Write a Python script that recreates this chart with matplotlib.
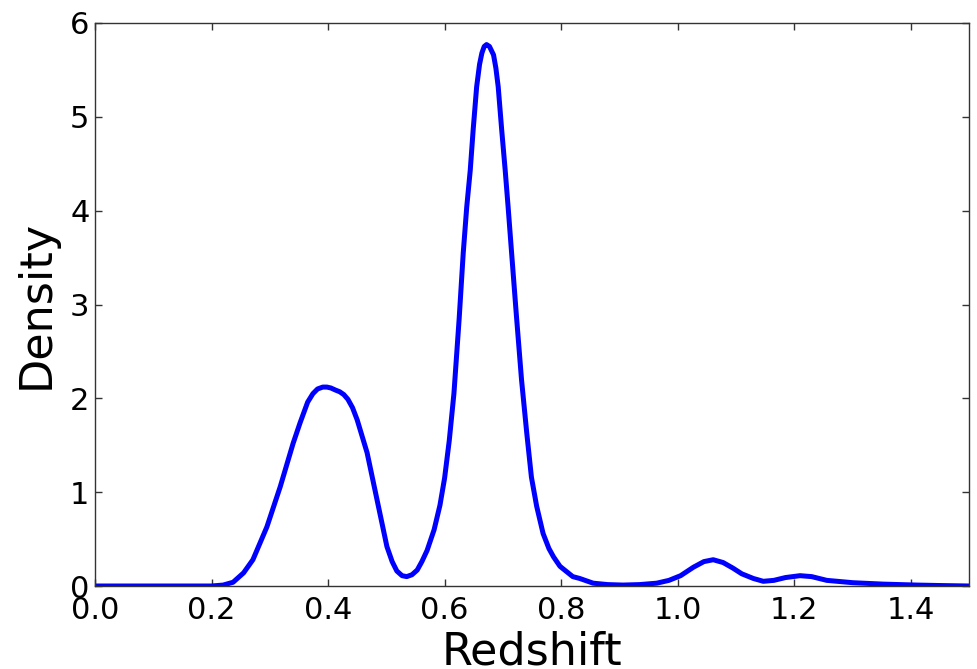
import numpy as np
import matplotlib
matplotlib.use("Agg")
import matplotlib.pyplot as plt

# redshift density curve
redshift = [0.00, 0.10, 0.20, 0.22, 0.237, 0.255, 0.271, 0.295, 0.318, 0.340, 0.352,
            0.365, 0.374, 0.382, 0.391, 0.398, 0.405, 0.412, 0.420, 0.427, 0.434,
            0.442, 0.450, 0.467, 0.484, 0.501, 0.510, 0.518, 0.527, 0.535, 0.544,
            0.553, 0.561, 0.570, 0.582, 0.592, 0.600, 0.608, 0.616, 0.625, 0.632,
            0.638, 0.644, 0.649, 0.655, 0.660, 0.664, 0.668, 0.672, 0.677, 0.684,
            0.688, 0.692, 0.698, 0.704, 0.709, 0.715, 0.723, 0.732, 0.741, 0.749,
            0.758, 0.769, 0.779, 0.787, 0.798, 0.810, 0.820, 0.832, 0.855, 0.880,
            0.906, 0.935, 0.964, 0.985, 1.005, 1.027, 1.045, 1.061, 1.078, 1.095,
            1.110, 1.130, 1.147, 1.165, 1.185, 1.210, 1.230, 1.256, 1.301, 1.353,
            1.410, 1.450, 1.500]
density = [0.00, 0.00, 0.00, 0.01, 0.04, 0.14, 0.28, 0.63, 1.06, 1.52, 1.74,
           1.96, 2.05, 2.10, 2.12, 2.12, 2.11, 2.09, 2.07, 2.04, 1.99,
           1.90, 1.77, 1.42, 0.92, 0.42, 0.26, 0.16, 0.11, 0.10, 0.12,
           0.17, 0.26, 0.38, 0.60, 0.86, 1.15, 1.55, 2.05, 2.85, 3.55,
           4.04, 4.43, 4.86, 5.32, 5.56, 5.68, 5.75, 5.77, 5.75, 5.66,
           5.52, 5.32, 4.86, 4.43, 4.04, 3.55, 2.90, 2.20, 1.63, 1.16,
           0.85, 0.56, 0.40, 0.31, 0.21, 0.15, 0.10, 0.08, 0.03, 0.015,
           0.01, 0.015, 0.03, 0.06, 0.11, 0.20, 0.26, 0.28, 0.25, 0.19,
           0.13, 0.08, 0.05, 0.06, 0.09, 0.11, 0.10, 0.06, 0.035, 0.02,
           0.01, 0.005, 0.0]

xticks = [0.0, 0.2, 0.4, 0.6, 0.8, 1.0, 1.2, 1.4]
yticks = [0, 1, 2, 3, 4, 5, 6]

fig = plt.figure(figsize=(9.77, 6.69), dpi=100)
ax = fig.add_axes([95/977, 1 - 586/669, (969 - 95)/977, (586 - 23)/669])

ax.plot(redshift, density, color="blue", lw=3.6,
        solid_joinstyle="round", solid_capstyle="round")

ax.set_xlim(0, 1.5)
ax.set_ylim(0, 6)
ax.set_xticks(xticks)
ax.set_yticks(yticks)
ax.set_xticklabels(["%.1f" % t for t in xticks])
ax.set_yticklabels([str(t) for t in yticks])
ax.tick_params(direction="in", length=5, width=1, top=True, right=True,
               labelsize=22, color="#333333")
ax.tick_params(axis="x", pad=7)
ax.tick_params(axis="y", pad=4)
for s in ax.spines.values():
    s.set_color("#333333")
    s.set_linewidth(1)

ax.set_xlabel("Redshift", fontsize=32, labelpad=4)
ax.set_ylabel("Density", fontsize=32, labelpad=9)

fig.savefig("out.png", dpi=100)
